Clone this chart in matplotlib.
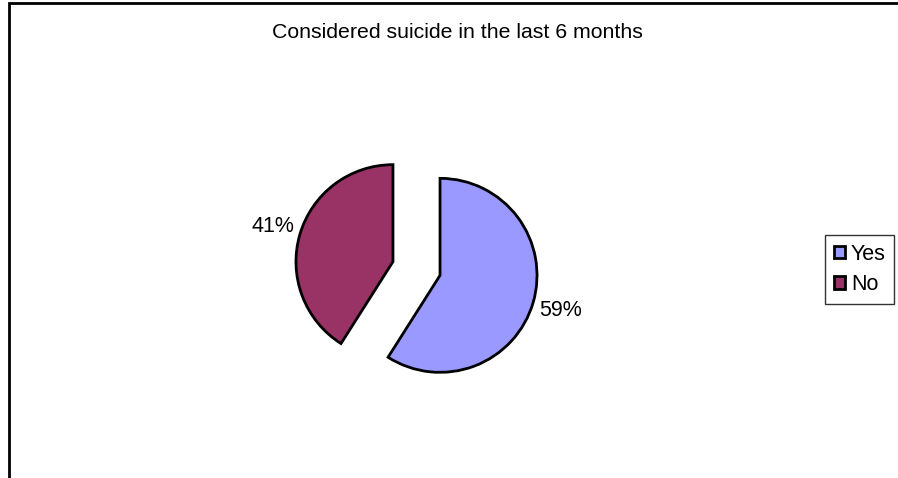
import matplotlib as mpl
mpl.use('Agg')
import matplotlib.pyplot as plt
from matplotlib.patches import Patch

plt.rcParams['font.family'] = ['Liberation Sans', 'DejaVu Sans']

# data
labels = ["Yes", "No"]
shares = [59, 41]
colors = ["#9999FF", "#993366"]
title = "Considered suicide in the last 6 months"

W, H = 898, 478
fig = plt.figure(figsize=(W / 100, H / 100), dpi=100)
ax = fig.add_axes([0, 0, 1, 1])

# pie in pixel units
R = 97
cx, cy = 416.5, H - 268.5
wedges, texts, autotexts = ax.pie(
    shares, colors=colors, startangle=90, counterclock=False,
    center=(cx, cy), radius=R, explode=[24.5, 24.5],
    autopct='%1.0f%%', pctdistance=1.29, frame=True,
    wedgeprops=dict(edgecolor='black', linewidth=2),
    textprops=dict(fontsize=15.5, color='black'))
ax.set_xlim(0, W)
ax.set_ylim(0, H)
ax.set_aspect('equal')
ax.axis('off')

# outer frame (left and top visible)
ax.plot([8.5, 8.5, W + 5], [-5, H - 2.5, H - 2.5], color='black', lw=2,
        solid_joinstyle='miter')

ax.text(457, H - 32, title, ha='center', va='center', fontsize=15.3)

handles = [Patch(facecolor=c, edgecolor='black', linewidth=2) for c in colors]
leg = ax.legend(handles, labels, loc='upper left',
                bbox_to_anchor=(825 / W, (H - 235) / H),
                frameon=True, fancybox=False, fontsize=15.5,
                handlelength=0.55, handleheight=0.55, handletextpad=0.25,
                borderpad=0.4, labelspacing=0.45, borderaxespad=0)
leg.get_frame().set_edgecolor('black')
leg.get_frame().set_linewidth(1)

fig.savefig('out.png', dpi=100)
